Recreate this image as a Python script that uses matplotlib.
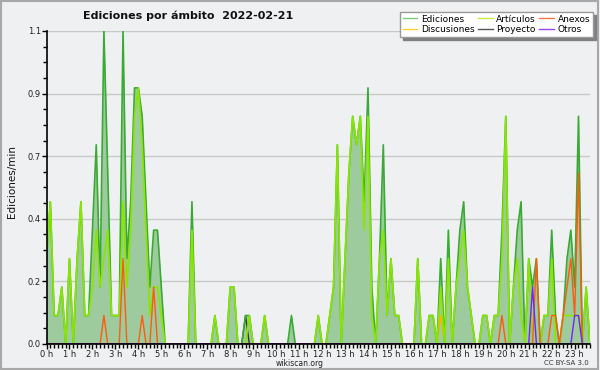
import numpy as np
import matplotlib.pyplot as plt
from matplotlib.ticker import FixedLocator, MultipleLocator, FormatStrFormatter
from matplotlib.patches import Rectangle

# edits per minute, one value every 10 minutes from 0:00
ediciones = [
    0.3, 0.5, 0.1, 0.1, 0.2, 0, 0.3, 0, 0.3, 0.5, 0.1, 0.1,
    0.4, 0.7, 0.2, 1.1, 0.6, 0.1, 0.1, 0.1, 1.1, 0.3, 0.5, 0.9,
    0.9, 0.8, 0.5, 0.2, 0.4, 0.4, 0.2, 0, 0, 0, 0, 0,
    0, 0, 0.5, 0, 0, 0, 0, 0, 0.1, 0, 0, 0,
    0.2, 0.2, 0, 0, 0.1, 0.1, 0, 0, 0, 0.1, 0, 0,
    0, 0, 0, 0, 0.1, 0, 0, 0, 0, 0, 0, 0.1,
    0, 0, 0.1, 0.2, 0.7, 0, 0.3, 0.6, 0.8, 0.7, 0.8, 0.5,
    0.9, 0.2, 0, 0.3, 0.7, 0.1, 0.3, 0.1, 0.1, 0, 0, 0,
    0, 0.3, 0, 0, 0.1, 0.1, 0, 0.3, 0, 0.4, 0, 0.2,
    0.4, 0.5, 0.2, 0.1, 0, 0, 0.1, 0.1, 0, 0.1, 0.1, 0.4,
    0.8, 0, 0.2, 0.4, 0.5, 0, 0.3, 0.2, 0.3, 0, 0.1, 0.1,
    0.4, 0.1, 0, 0.1, 0.3, 0.4, 0.2, 0.8, 0, 0.2, 0,
]
articulos = [
    0.3, 0.5, 0.1, 0.1, 0.2, 0, 0.3, 0, 0.3, 0.5, 0.1, 0.1,
    0.2, 0.4, 0.2, 0.3, 0.4, 0.1, 0.1, 0.1, 0.5, 0.2, 0.4, 0.8,
    0.9, 0.7, 0.4, 0.1, 0.2, 0.2, 0.1, 0, 0, 0, 0, 0,
    0, 0, 0.4, 0, 0, 0, 0, 0, 0.1, 0, 0, 0,
    0.2, 0.2, 0, 0, 0, 0.1, 0, 0, 0, 0.1, 0, 0,
    0, 0, 0, 0, 0, 0, 0, 0, 0, 0, 0, 0.1,
    0, 0, 0.1, 0.2, 0.7, 0, 0.3, 0.6, 0.8, 0.7, 0.8, 0.4,
    0.8, 0.1, 0, 0.3, 0.4, 0.1, 0.3, 0.1, 0.1, 0, 0, 0,
    0, 0.3, 0, 0, 0.1, 0.1, 0, 0.2, 0, 0.3, 0, 0.2,
    0.3, 0.4, 0.2, 0.1, 0, 0, 0.1, 0.1, 0, 0.1, 0.1, 0.3,
    0.8, 0, 0.2, 0.3, 0.1, 0, 0.3, 0, 0, 0, 0.1, 0.1,
    0.3, 0, 0, 0.1, 0.1, 0.1, 0.1, 0.1, 0, 0.2, 0,
]
# sparse series: {sample index: value}
anexos = {15: 0.1, 20: 0.3, 25: 0.1, 28: 0.2, 119: 0.1, 128: 0.3, 132: 0.1,
          133: 0.1, 135: 0.1, 136: 0.2, 137: 0.3, 138: 0.1, 139: 0.6}
discusiones = {103: 0.1}
proyecto = {52: 0.1}
otros = {127: 0.2, 138: 0.1, 139: 0.1}

n = len(ediciones)
t = np.arange(n) / 6.0   # hours


def dense(d):
    s = np.zeros(n)
    for k, v in d.items():
        s[k] = v
    return s


bg = '#eff0f1'
fig = plt.figure(figsize=(6, 3.7), dpi=100, facecolor=bg)
ax = fig.add_axes([0.0775, 0.0703, 0.9058, 0.8460])
ax.set_facecolor(bg)

ax.fill_between(t, ediciones, 0, color='#9ecb9d', lw=0, zorder=2)
ax.plot(t, dense(proyecto), color='#333333', lw=1, zorder=3)
ax.plot(t, dense(discusiones), color='#f2b600', lw=1, zorder=3)
ax.plot(t, ediciones, color='#3aaa35', lw=1.2, zorder=4)
ax.plot(t, articulos, color='#8ae600', lw=1.2, zorder=5)
ax.plot(t, dense(anexos), color='#ff5a10', lw=1, zorder=6)
ax.plot(t, dense(otros), color='#7a1fff', lw=1, zorder=6)

ax.set_xlim(0, t[-1])
ax.set_ylim(0, 1.1)

ax.yaxis.set_major_locator(FixedLocator(np.arange(0, 1.11, 0.22)))
ax.yaxis.set_major_formatter(FormatStrFormatter('%.1f'))
ax.yaxis.set_minor_locator(MultipleLocator(0.055))
ax.xaxis.set_major_locator(FixedLocator(np.arange(0, 24)))
ax.set_xticklabels(['%d h' % h for h in range(24)])
ax.xaxis.set_minor_locator(MultipleLocator(1 / 6.0))

ax.grid(axis='y', color='#c8c8c8', lw=1, zorder=1)
ax.set_axisbelow(True)
for s in ['top', 'right']:
    ax.spines[s].set_visible(False)
for s in ['left', 'bottom']:
    ax.spines[s].set_color('black')
    ax.spines[s].set_linewidth(1.2)
    ax.spines[s].set_zorder(7)

ax.tick_params(which='both', direction='out', color='black', width=1,
               labelsize=6, labelcolor='#222222', pad=0.5)
ax.tick_params(which='major', length=3.5)
ax.tick_params(which='minor', length=3)

fig.text(0.313, 0.957, 'Ediciones por ámbito  2022-02-21', ha='center',
         va='center', fontsize=8, fontweight='bold', color='#111111')
fig.text(0.02, 0.51, 'Ediciones/min', rotation=90, ha='center', va='center',
         fontsize=7.5, color='#111111')
fig.text(0.5, 0.018, 'wikiscan.org', ha='center', va='center', fontsize=5.5,
         color='#222222')
fig.text(0.982, 0.018, 'CC BY-SA 3.0', ha='right', va='center', fontsize=5,
         color='#333333')

labels = ['Ediciones', 'Discusiones', 'Artículos', 'Proyecto', 'Anexos', 'Otros']
colors = ['#7ccc7c', '#ffcc33', '#c8ee44', '#555555', '#ff7744', '#9944ff']
handles = [plt.Line2D([], [], color=c, lw=1) for c in colors]
leg = fig.legend(handles, labels, ncol=3, loc='upper right',
                 bbox_to_anchor=(0.988, 0.968), fontsize=6.5, frameon=True,
                 fancybox=False, shadow={'color': '#808080', 'alpha': 1},
                 handlelength=1.6, handletextpad=0.4, columnspacing=0.4,
                 labelspacing=0.2, borderpad=0.3, borderaxespad=0)
leg.get_frame().set_edgecolor('#999999')
leg.get_frame().set_linewidth(1)

fig.patches.append(Rectangle((0.002, 0.003), 0.995, 0.993, transform=fig.transFigure,
                             fill=False, edgecolor='#a8a8a8', lw=1.5))

fig.savefig('out.png', dpi=100, facecolor=bg)
